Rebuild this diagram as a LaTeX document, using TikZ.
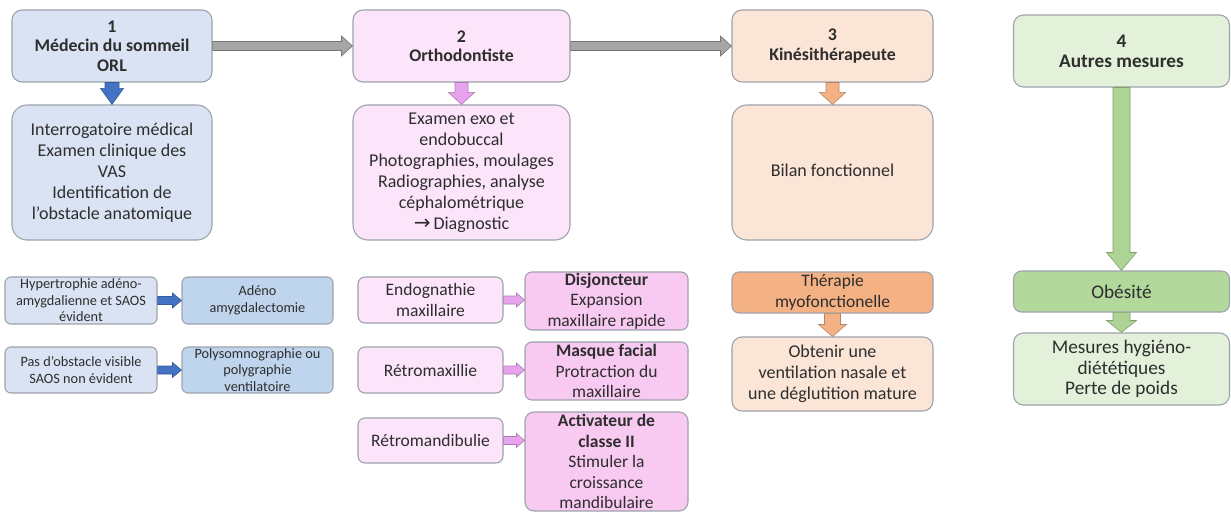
\documentclass[tikz,border=0pt]{standalone}
\usepackage{fontspec}
\setmainfont{Carlito}
\newfontfamily\arrowfont{DejaVu Sans}
\usetikzlibrary{calc}
\definecolor{txt}{HTML}{2E2E2E}
\definecolor{bord}{HTML}{9EA3AC}
\definecolor{blueL}{HTML}{DAE3F3}
\definecolor{blueD}{HTML}{BFD5EE}
\definecolor{blueA}{HTML}{4472C4}
\definecolor{pinkL}{HTML}{FCE4FA}
\definecolor{pinkD}{HTML}{F8C9F1}
\definecolor{pinkA}{HTML}{E8A3EE}
\definecolor{peachL}{HTML}{FBE5D6}
\definecolor{peachD}{HTML}{F4B183}
\definecolor{greenL}{HTML}{E3F1DB}
\definecolor{greenD}{HTML}{B3D89C}
\definecolor{greenA}{HTML}{ADD494}
\definecolor{grayA}{HTML}{A6A6A6}
\newcommand\fatdown[6]{%
\path[#6] let \p1=(#1), \p2=(#2) in
 (\x1-#3pt,\y1) -- (\x1-#3pt,\y2+#5pt) -- (\x1-#4pt,\y2+#5pt) -- (\x1,\y2) -- (\x1+#4pt,\y2+#5pt) -- (\x1+#3pt,\y2+#5pt) -- (\x1+#3pt,\y1) -- cycle;}
\newcommand\fatright[6]{%
\path[#6] let \p1=(#1), \p2=(#2) in
 (\x1,\y1-#3pt) -- (\x2-#5pt,\y1-#3pt) -- (\x2-#5pt,\y1-#4pt) -- (\x2,\y1) -- (\x2-#5pt,\y1+#4pt) -- (\x2-#5pt,\y1+#3pt) -- (\x1,\y1+#3pt) -- cycle;}
\begin{document}
\begin{tikzpicture}[x=1pt,y=-1pt,
  box/.style={draw=bord, line width=1.1pt, rounded corners=#1, inner sep=0pt, align=center, text=txt},
  box/.default=10pt,
  fmain/.style={font=\fontsize{18}{21}\selectfont},
  fmid/.style={font=\fontsize{17.5}{20.5}\selectfont},
  fhead/.style={font=\fontsize{17.8}{19.5}\selectfont\bfseries},
  fsmall/.style={font=\fontsize{14.3}{16.5}\selectfont},
  fgreen/.style={font=\fontsize{19.3}{20.5}\selectfont},
  ghead/.style={font=\fontsize{19.3}{20}\selectfont\bfseries},
  arblue/.style={fill=blueA, draw=blueA!80!black, line width=0.6pt},
  arpink/.style={fill=pinkA, draw=pinkA!75!black, line width=0.6pt},
  arpeach/.style={fill=peachD, draw=peachD!75!black, line width=0.6pt},
  argreen/.style={fill=greenA, draw=greenA!75!black, line width=0.6pt},
  argray/.style={fill=grayA, draw=grayA!70!black, line width=0.6pt},
]
\useasboundingbox[fill=white] (0,0) rectangle (1231,513);

% column 1
\node[box, fill=blueL, fhead, minimum width=200pt, minimum height=72pt] (b1h) at (112,46) {1\\Médecin du sommeil\\ORL};
\node[box=15pt, fill=blueL, fmain, minimum width=200pt, minimum height=135pt] (b1b) at (112,172.5) {Interrogatoire médical\\Examen clinique des\\VAS\\Identification de\\l'obstacle anatomique};
% column 2
\node[box, fill=pinkL, fhead, minimum width=217pt, minimum height=72pt] (b2h) at (461.5,46) {2\\Orthodontiste};
\node[box=15pt, fill=pinkL, fmain, minimum width=217pt, minimum height=135pt] (b2b) at (461.5,172.5) {Examen exo et\\endobuccal\\Photographies, moulages\\Radiographies, analyse\\céphalométrique\\{\arrowfont\fontsize{20}{20}\selectfont →}\,Diagnostic};
% column 3
\node[box, fill=peachL, fhead, minimum width=201pt, minimum height=72pt] (b3h) at (832.5,46) {3\\Kinésithérapeute};
\node[box=15pt, fill=peachL, fmain, minimum width=201pt, minimum height=135pt] (b3b) at (832.5,172.5) {\raisebox{5pt}{Bilan fonctionnel}};
% column 4
\node[box, fill=greenL, ghead, minimum width=216pt, minimum height=72pt] (b4h) at (1121.5,51) {4\\Autres mesures};

% lower left
\node[box=6pt, fill=blueL, fsmall, minimum width=152pt, minimum height=47pt] (h1) at (81,300.5) {Hypertrophie adéno-\\amygdalienne et SAOS\\évident};
\node[box=6pt, fill=blueD, fsmall, minimum width=151pt, minimum height=47pt] (h2) at (257.5,300.5) {Adéno\\amygdalectomie};
\node[box=6pt, fill=blueL, fsmall, minimum width=152pt, minimum height=46pt] (p1) at (81,370) {Pas d'obstacle visible\\SAOS non évident};
\node[box=6pt, fill=blueD, fsmall, minimum width=151pt, minimum height=46pt] (p2) at (257.5,370) {Polysomnographie ou\\polygraphie\\ventilatoire};

% lower middle
\node[box=7pt, fill=pinkL, fmid, minimum width=145pt, minimum height=46pt] (e1) at (430.5,300) {Endognathie\\maxillaire};
\node[box=7pt, fill=pinkD, fmid, minimum width=163pt, minimum height=58pt] (d1) at (606.5,301) {\textbf{Disjoncteur}\\Expansion\\maxillaire rapide};
\node[box=7pt, fill=pinkL, fmid, minimum width=145pt, minimum height=46pt] (r1) at (430.5,370) {Rétromaxillie};
\node[box=7pt, fill=pinkD, fmid, minimum width=163pt, minimum height=58pt] (m1) at (606.5,371) {\textbf{Masque facial}\\Protraction du\\maxillaire};
\node[box=7pt, fill=pinkL, fmid, minimum width=145pt, minimum height=45pt] (r2) at (430.5,440.5) {Rétromandibulie};
\node[box=9pt, fill=pinkD, fmid, minimum width=163pt, minimum height=99pt] (a1) at (606.5,461.5) {\textbf{Activateur de}\\\textbf{classe II}\\Stimuler la\\croissance\\mandibulaire};

% lower right
\node[box=7pt, fill=peachD, fmid, minimum width=201pt, minimum height=41pt] (t1) at (832.5,292.5) {Thérapie\\myofonctionelle};
\node[box=10pt, fill=peachL, fmain, minimum width=201pt, minimum height=74pt] (o1) at (832.5,374) {Obtenir une\\ventilation nasale et\\une déglutition mature};
\node[box=8pt, fill=greenD, fgreen, minimum width=216pt, minimum height=41pt] (ob) at (1121.5,291.5) {Obésité};
\node[box=10pt, fill=greenL, fgreen, minimum width=216pt, minimum height=72pt] (me) at (1121.5,369) {Mesures hygiéno-\\diététiques\\Perte de poids};

% arrows
\fatright{b1h.east}{b2h.west}{4.5}{10}{11}{argray}
\fatright{b2h.east}{b3h.west}{4.5}{10}{11}{argray}
\fatdown{b1h.south}{b1b.north}{7}{11.5}{16}{arblue}
\fatdown{b2h.south}{b2b.north}{6.5}{13}{12}{arpink}
\fatdown{b3h.south}{b3b.north}{6.5}{13}{12}{arpeach}
\fatdown{b4h.south}{ob.north}{8.5}{15}{18}{argreen}
\fatdown{ob.south}{me.north}{8.5}{15}{12}{argreen}
\fatdown{t1.south}{o1.north}{8}{14}{12}{arpeach}
\fatright{h1.east}{h2.west}{4}{7.5}{9}{arblue}
\fatright{p1.east}{p2.west}{4}{7.5}{9}{arblue}
\fatright{e1.east}{d1.west}{4}{7}{8}{arpink}
\fatright{r1.east}{m1.west}{4}{7}{8}{arpink}
\fatright{r2.east}{a1.west}{4}{7}{8}{arpink}
\end{tikzpicture}
\end{document}
